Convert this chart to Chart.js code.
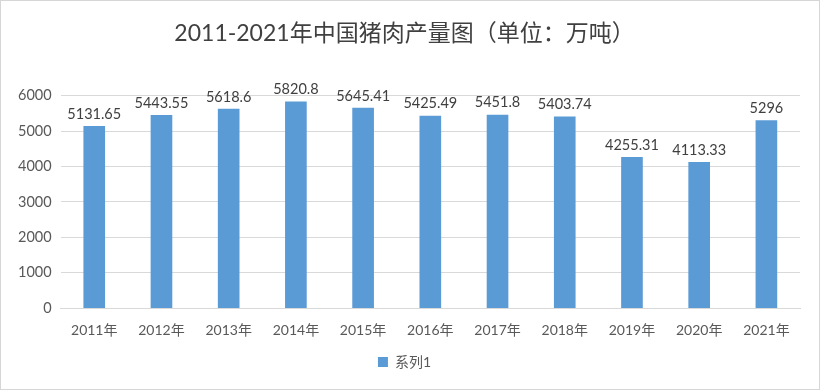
<!DOCTYPE html>
<html lang="zh">
<head>
<meta charset="UTF-8">
<title>2011-2021年中国猪肉产量图</title>
<script src="https://cdn.jsdelivr.net/npm/chart.js"></script>
<style>
    html, body { margin: 0; padding: 0; background: #fff; }
    .wrap {
        width: 820px; height: 390px;
        box-sizing: border-box;
        border: 1px solid #d6d6d6;
        position: relative;
    }
</style>
</head>
<body>
<div class="wrap"><canvas id="c"></canvas></div>
<script>
    const years = ['2011年', '2012年', '2013年', '2014年', '2015年', '2016年', '2017年', '2018年', '2019年', '2020年', '2021年'];
    const output = [5131.65, 5443.55, 5618.6, 5820.8, 5645.41, 5425.49, 5451.8, 5403.74, 4255.31, 4113.33, 5296];
    const labels = ['5131.65', '5443.55', '5618.6', '5820.8', '5645.41', '5425.49', '5451.8', '5403.74', '4255.31', '4113.33', '5296'];

    const FONT = "Lato, 'Noto Sans CJK SC', sans-serif";

    // 柱顶数值
    const valueLabels = {
        id: 'valueLabels',
        afterDatasetsDraw(chart) {
            const ctx = chart.ctx;
            const meta = chart.getDatasetMeta(0);
            ctx.save();
            ctx.font = "14.5px " + FONT;
            ctx.fillStyle = '#404040';
            ctx.textAlign = 'center';
            ctx.textBaseline = 'bottom';
            meta.data.forEach((bar, i) => {
                ctx.fillText(labels[i], bar.x, bar.y - 5);
            });
            ctx.restore();
        }
    };

    new Chart(document.getElementById('c'), {
        type: 'bar',
        data: {
            labels: years,
            datasets: [{
                label: '系列1',
                data: output,
                backgroundColor: '#5b9bd5',
                barThickness: 21
            }]
        },
        options: {
            responsive: true,
            maintainAspectRatio: false,
            animation: false,
            layout: { padding: { left: 8, right: 19, top: 0, bottom: 10 } },
            plugins: {
                title: {
                    display: true,
                    text: '2011-2021年中国猪肉产量图（单位：万吨）',
                    color: '#404040',
                    font: { family: FONT, size: 23, weight: 'normal' },
                    padding: { top: 19, bottom: 48 }
                },
                legend: {
                    position: 'bottom',
                    labels: {
                        color: '#595959',
                        font: { family: FONT, size: 14 },
                        boxWidth: 10,
                        boxHeight: 10,
                        padding: 10
                    }
                },
                tooltip: { enabled: false }
            },
            scales: {
                x: {
                    grid: { display: false },
                    border: { color: '#d9d9d9' },
                    ticks: { color: '#595959', font: { family: FONT, size: 14 }, padding: 6 }
                },
                y: {
                    min: 0, max: 6000,
                    ticks: {
                        stepSize: 1000, color: '#595959', font: { family: FONT, size: 14.5 }, padding: 9,
                        callback: v => String(v)
                    },
                    grid: { color: '#d9d9d9', drawTicks: false },
                    border: { display: false }
                }
            }
        },
        plugins: [valueLabels]
    });
</script>
</body>
</html>
